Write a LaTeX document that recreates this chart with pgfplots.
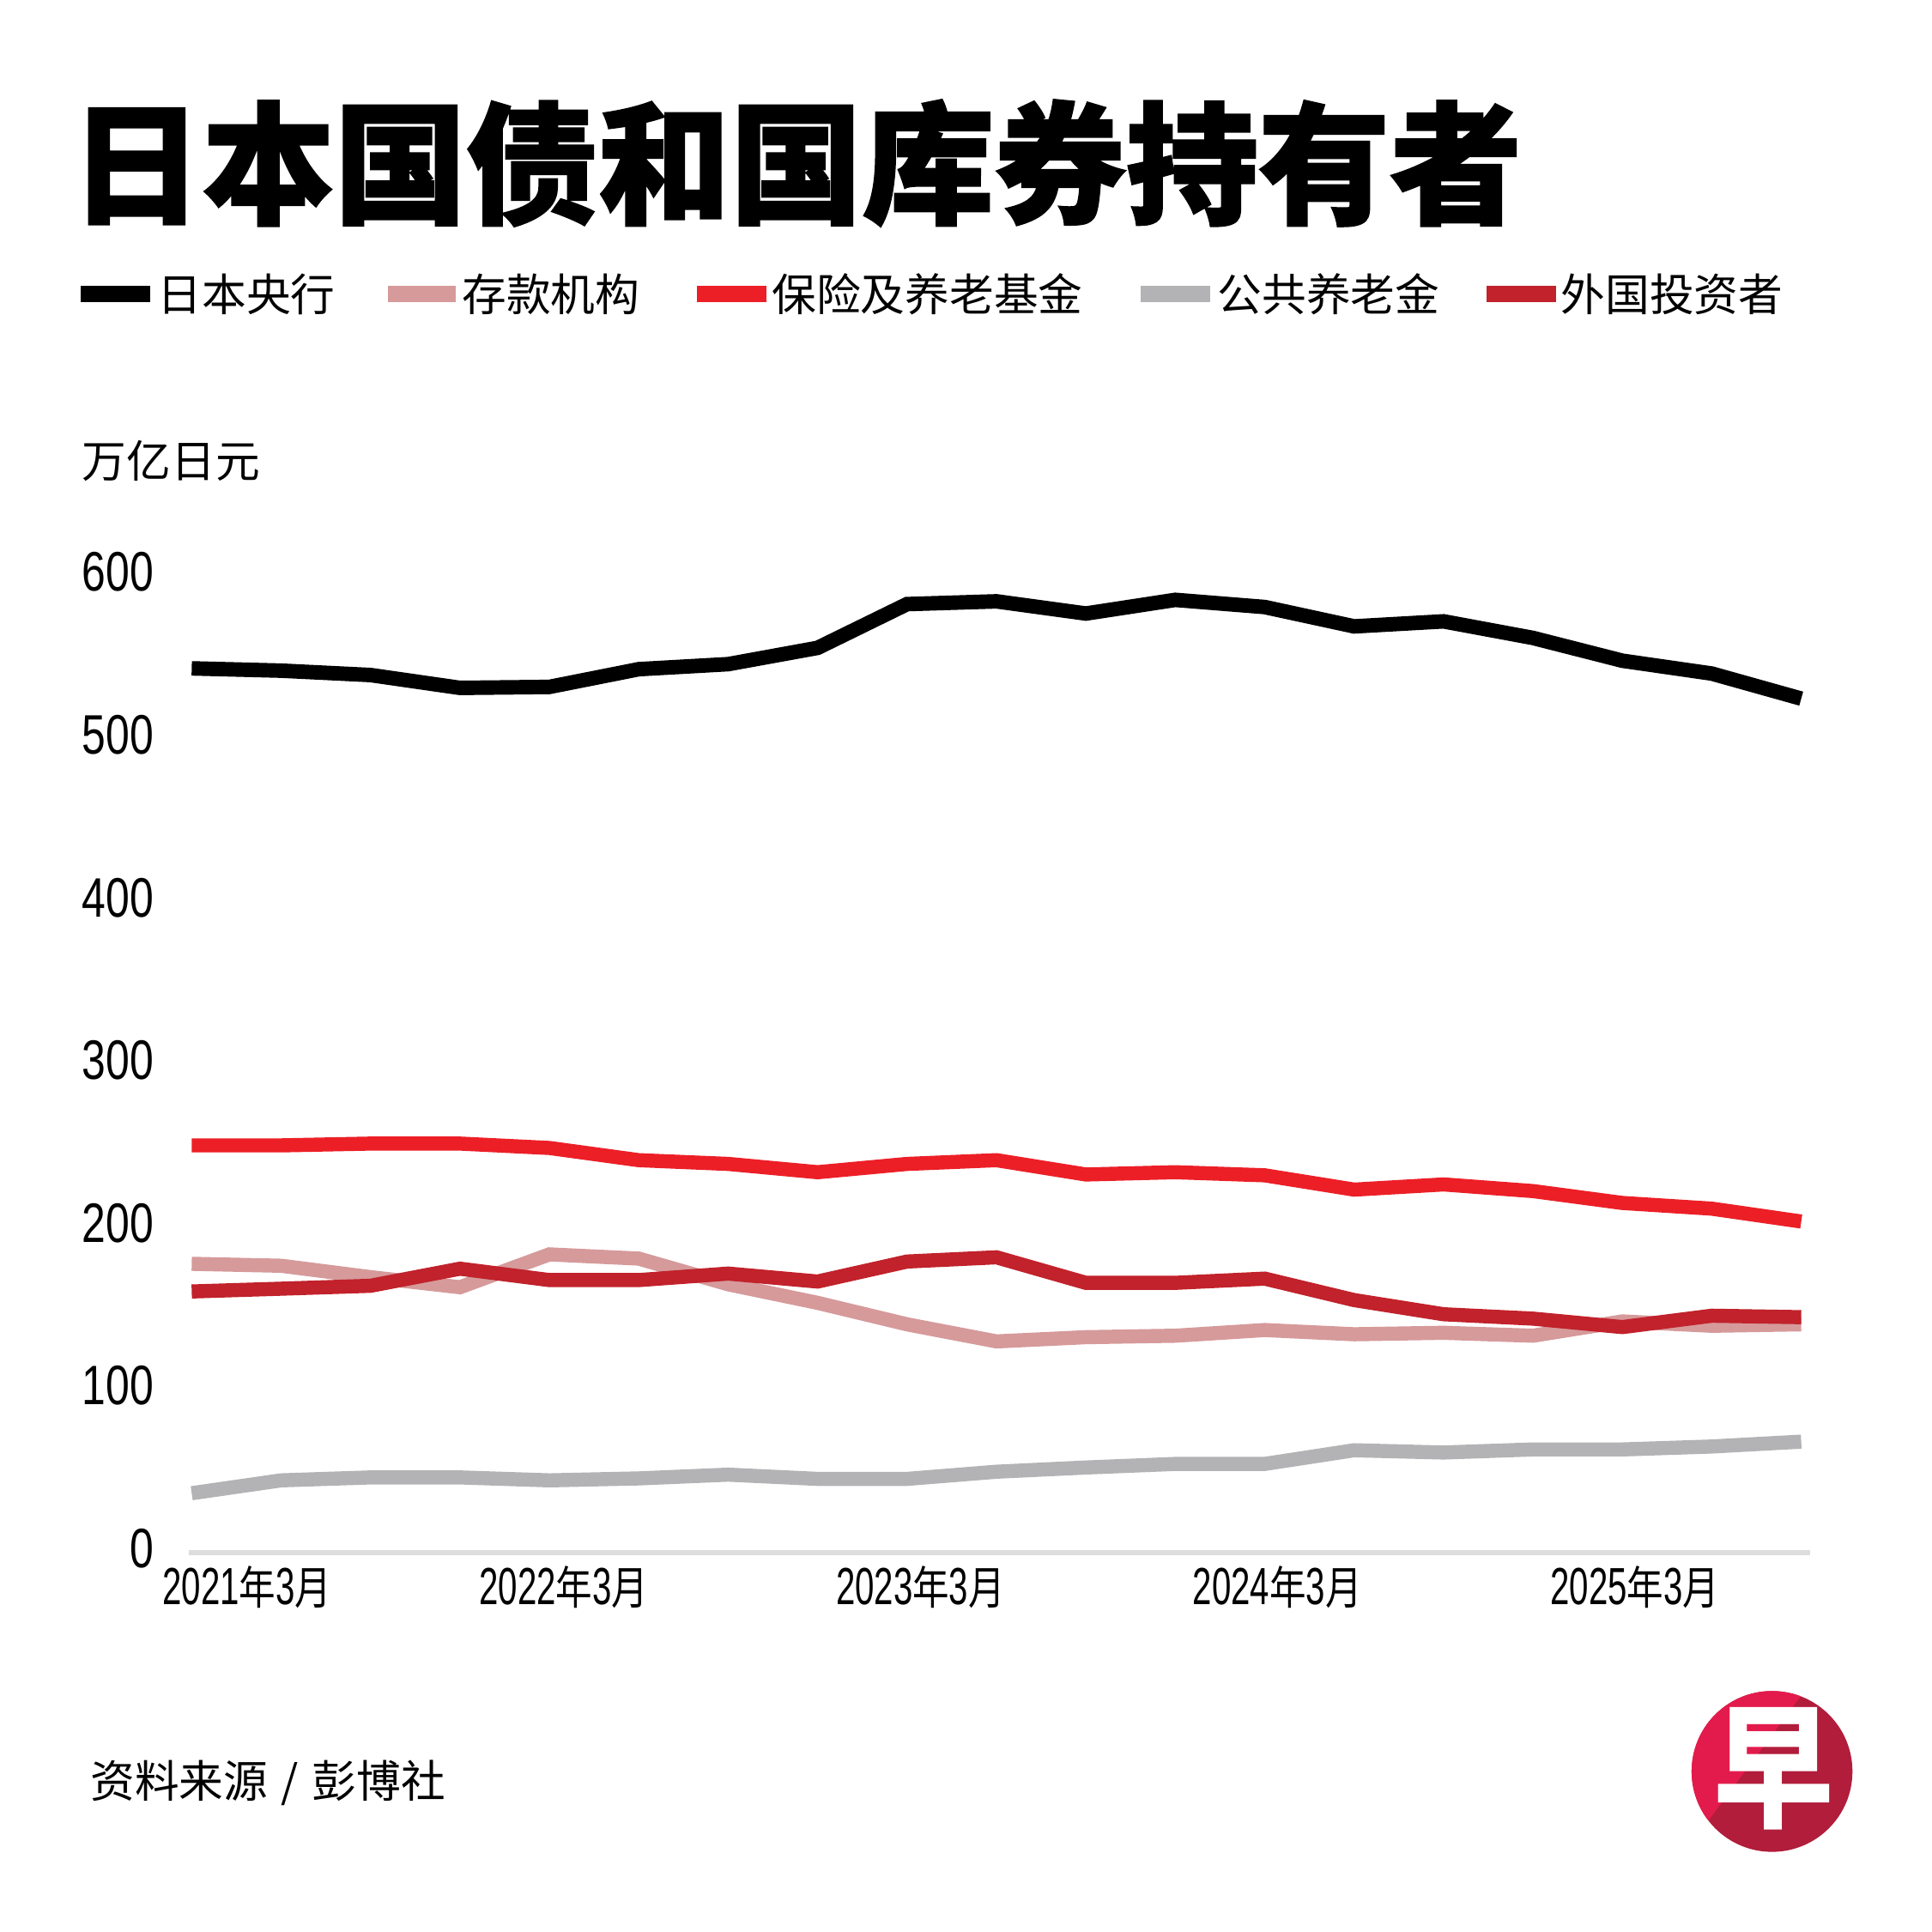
\documentclass[border=0pt]{standalone}
\usepackage{pgfplots}
\pgfplotsset{compat=1.18}
\usepackage{pgfplotstable}
\usepackage{fontspec}
\setmainfont{Liberation Sans}
\newfontfamily\cjk{Noto Sans CJK SC}
\newfontfamily\titlefont{Noto Sans CJK SC}[BoldFeatures={FakeBold=1.5}]
\newfontfamily\ynumfont{Liberation Sans}[FakeStretch=0.77]
\newfontfamily\xnumfont{Liberation Sans}[FakeStretch=0.66]
\newfontfamily\xcjkfont{Noto Sans CJK SC}[FakeStretch=0.8]
\definecolor{cpink}{HTML}{D69A9B}
\definecolor{cred}{HTML}{EC1F27}
\definecolor{cgray}{HTML}{B3B3B5}
\definecolor{cdred}{HTML}{C1222B}
\definecolor{cbase}{HTML}{DDDDDD}
\definecolor{logoA}{HTML}{E31B4C}
\definecolor{logoB}{HTML}{B11D3B}
\newcommand\xl[1]{{\fontsize{12.6}{12.6}\selectfont\xnumfont #1}{\fontsize{11}{11}\selectfont\xcjkfont 年}{\fontsize{12.6}{12.6}\selectfont\xnumfont 3}{\fontsize{11}{11}\selectfont\xcjkfont 月}}
\pgfplotstableread{
i boj dep ins pub for
0 540.9 174.9 247.7 33.9 157.9
1 539.5 173.7 247.7 41.8 159.6
2 536.8 166.7 248.8 43.6 161.4
3 528.9 160.5 248.8 43.6 171.9
4 529.5 180.7 246.1 41.8 164.9
5 540.4 178.1 238.6 43.0 164.9
6 543.5 162.3 236.3 45.3 168.9
7 553.5 150.9 231.2 42.7 164.0
8 580.4 137.7 236.3 42.7 176.3
9 582.1 127.2 238.6 47.1 178.9
10 574.6 129.8 229.8 49.7 163.2
11 583.0 130.7 231.2 51.9 163.2
12 578.6 134.2 229.3 51.9 165.8
13 566.7 131.6 220.5 60.3 152.6
14 569.8 132.5 223.7 58.9 143.9
15 559.6 130.7 219.6 60.8 141.2
16 545.6 139.5 212.3 60.8 136.0
17 537.7 136.8 208.8 62.6 143.0
18 522.3 137.7 200.9 65.6 142.1
}\datatable
\begin{document}
\begin{tikzpicture}
\begin{scope}[x=0.3pt,y=-0.3pt]
\path[use as bounding box] (0,0) rectangle (1552,1552);
% title
\node[anchor=west, inner sep=0pt, font=\fontsize{31.8}{31.8}\selectfont\titlefont\bfseries] at (56,131) {日本国债和国库券持有者};
% legend
\fill[black] (64.8,229.6) rectangle (120.4,242.5);
\node[anchor=west, inner sep=0pt, font=\fontsize{10.7}{10.7}\selectfont\cjk] at (126,236.5) {日本央行};
\fill[cpink] (311.6,229.6) rectangle (366,242.5);
\node[anchor=west, inner sep=0pt, font=\fontsize{10.7}{10.7}\selectfont\cjk] at (370.5,236.5) {存款机构};
\fill[cred] (559.8,229.6) rectangle (615.4,242.5);
\node[anchor=west, inner sep=0pt, font=\fontsize{10.7}{10.7}\selectfont\cjk] at (619.5,236.5) {保险及养老基金};
\fill[cgray] (916,229.6) rectangle (972,242.5);
\node[anchor=west, inner sep=0pt, font=\fontsize{10.7}{10.7}\selectfont\cjk] at (977.5,236.5) {公共养老金};
\fill[cdred] (1194.5,229.6) rectangle (1250,242.5);
\node[anchor=west, inner sep=0pt, font=\fontsize{10.7}{10.7}\selectfont\cjk] at (1253.3,236.5) {外国投资者};
% unit
\node[anchor=west, inner sep=0pt, font=\fontsize{10.7}{10.7}\selectfont\cjk] at (65.5,370) {万亿日元};
% source
\node[anchor=west, inner sep=0pt, font=\fontsize{10.7}{10.7}\selectfont\cjk] at (72,1432) {资料来源\hspace{3.2pt}/\hspace{3.3pt}彭博社};
% logo
\fill[logoB] (1423.5,1423) circle (64.6);
\begin{scope}
\clip (1423.5,1423) circle (64.6);
\fill[logoA] (1333.5,1333) -- (1468.5,1333) -- (1334.9,1513) -- (1333.5,1513) -- cycle;
\end{scope}
\node[text=white, inner sep=0pt, yscale=1.12, font=\fontsize{29}{29}\selectfont\cjk\bfseries] at (1425,1421) {早};
\end{scope}
\begin{axis}[
  at={(45.6pt,-374.2pt)}, anchor=south west,
  scale only axis, width=390.6pt, height=236.3pt,
  xmin=-0.028, xmax=18.098, ymin=-2.7, ymax=600,
  axis x line=bottom, axis y line=left,
  x axis line style={draw=cbase, line width=1.25pt, -},
  y axis line style={draw=none},
  tick style={draw=none}, major tick length=0pt,
  xtick={0.62,4.16,8.15,12.14,16.14},
  xticklabels={\xl{2021},\xl{2022},\xl{2023},\xl{2024},\xl{2025}},
  ytick={0,100,200,300,400,500,600},
  yticklabels={0,100,200,300,400,500,600},
  yticklabel style={font=\fontsize{13.4}{13.4}\selectfont\ynumfont, anchor=east, inner sep=0pt, xshift=-8.4pt},
  xticklabel style={anchor=north, inner sep=0pt, yshift=-3.0pt},
  clip=false,
]
\addplot[cgray, line width=3.4pt] table[x=i,y=pub]{\datatable};
\addplot[cpink, line width=3.4pt] table[x=i,y=dep]{\datatable};
\addplot[cred, line width=3.4pt] table[x=i,y=ins]{\datatable};
\addplot[cdred, line width=3.4pt] table[x=i,y=for]{\datatable};
\addplot[black, line width=3.5pt] table[x=i,y=boj]{\datatable};
\end{axis}
\end{tikzpicture}
\end{document}
